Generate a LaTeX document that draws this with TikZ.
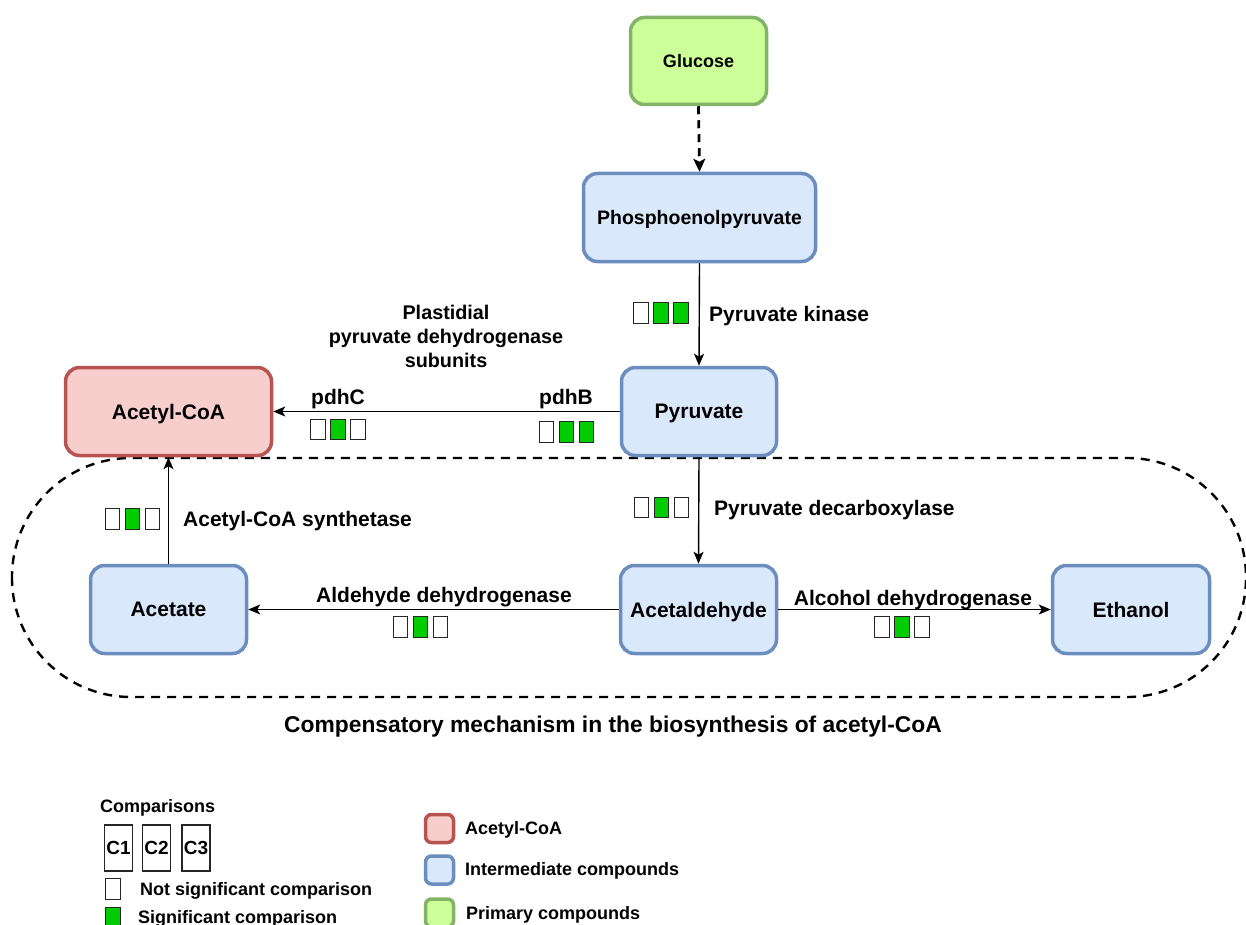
\documentclass[tikz,border=0pt]{standalone}
\usepackage{fontspec}
\setmainfont{Liberation Sans}
\usetikzlibrary{arrows.meta}

\definecolor{primfill}{HTML}{CCFF99}
\definecolor{primline}{HTML}{82B366}
\definecolor{interfill}{HTML}{DAE8FC}
\definecolor{interline}{HTML}{6C8EBF}
\definecolor{acfill}{HTML}{F8CECC}
\definecolor{acline}{HTML}{B85450}
\definecolor{sig}{HTML}{00CC00}

\newcommand{\bigfont}{\fontsize{21}{25}\selectfont\bfseries}
\newcommand{\smallfont}{\fontsize{18}{22}\selectfont\bfseries}

\tikzset{
  compound/.style={draw, line width=3.5pt, rounded corners=14pt, align=center,
    minimum height=88pt, inner sep=0pt, text depth=0pt, font=\bigfont},
  inter/.style={compound, fill=interfill, draw=interline},
  prim/.style={compound, fill=primfill, draw=primline},
  acoa/.style={compound, fill=acfill, draw=acline},
  reaction/.style={line width=1.4pt, -{Stealth[length=12pt,width=10pt,inset=3pt]}},
  feed/.style={line width=2.8pt, dash pattern=on 8pt off 6pt,
    -{Stealth[length=13pt,width=12pt,inset=3pt]}},
  lbl/.style={inner sep=0pt, text depth=0pt, font=\bigfont},
  leglbl/.style={inner sep=0pt, text depth=0pt, font=\smallfont},
  sq/.style={draw=black!85, line width=1.3pt, minimum width=14.5pt,
    minimum height=20.5pt, inner sep=0pt},
  pics/triplet/.style n args={3}{code={
    \node[sq, fill=#1] (-a) at (-20,0) {};
    \node[sq, fill=#2] (-b) at (0,0) {};
    \node[sq, fill=#3] (-c) at (20,0) {};
  }},
  legkey/.style={draw, line width=3.5pt, rounded corners=6pt,
    minimum width=28pt, minimum height=28pt, inner sep=0pt},
  cbox/.style={draw=black!85, line width=1.3pt, minimum width=28pt,
    minimum height=46pt, inner sep=0pt, font=\fontsize{19}{22}\selectfont\bfseries}
}

\begin{document}
\begin{tikzpicture}[x=1pt, y=-1pt]
\useasboundingbox (0,0) rectangle (1246,925);

% compensatory pathway region
\draw[line width=2.4pt, dash pattern=on 9pt off 7pt, rounded corners=119pt]
  (12,458) rectangle (1246,697);

% compounds
\node[prim,  minimum width=136pt, minimum height=87pt, font=\smallfont] (glc) at (698.5,61) {Glucose};
\node[inter, minimum width=232pt, font=\fontsize{19.5}{23}\selectfont\bfseries] (pep)  at (699.5,217.5) {Phosphoenolpyruvate};
\node[inter, minimum width=155pt] (pyr)  at (699,411.5) {Pyruvate};
\node[acoa,  minimum width=206pt] (acoa) at (168.5,411.5) {Acetyl-CoA};
\node[inter, minimum width=156pt] (ace)  at (168.5,609.5) {Acetate};
\node[inter, minimum width=156pt] (ald)  at (698.5,609.5) {Acetaldehyde};
\node[inter, minimum width=157pt] (eth)  at (1131,609.5) {Ethanol};

% reactions
\draw[feed] (glc.south) -- (pep.north);
\draw[reaction] (pep.south) -- (pyr.north);
\draw[reaction] (pyr.west) -- (acoa.east);
\draw[reaction] (pyr.south) -- (ald.north);
\draw[reaction] (ald.west) -- (ace.east);
\draw[reaction] (ald.east) -- (eth.west);
\draw[reaction] (ace.north) -- (acoa.south);

% enzyme labels
\node[lbl, anchor=west] (pk) at (709,314) {Pyruvate kinase};
\node[inner sep=0pt, align=center, font=\fontsize{19.8}{24}\selectfont\bfseries] (pdh) at (446,336)
  {Plastidial\\pyruvate dehydrogenase\\subunits};
\node[lbl] (pdhc) at (338,397) {pdhC};
\node[lbl] (pdhb) at (566,397) {pdhB};
\node[lbl, anchor=west] (acs) at (183,519) {Acetyl-CoA synthetase};
\node[lbl, anchor=west] (pdc) at (714,508) {Pyruvate decarboxylase};
\node[lbl] (aldh) at (444,595) {Aldehyde dehydrogenase};
\node[lbl] (adh) at (913,598) {Alcohol dehydrogenase};
\node[lbl, font=\fontsize{22.8}{26}\selectfont\bfseries] (comp) at (613,724)
  {Compensatory mechanism in the biosynthesis of acetyl-CoA};

% comparison results C1 C2 C3
\pic (tpk)   at (661,313)   {triplet={white}{sig}{sig}};
\pic (tpdhc) at (338,429.5) {triplet={white}{sig}{white}};
\pic (tpdhb) at (566.5,432) {triplet={white}{sig}{sig}};
\pic (tacs)  at (132.5,519) {triplet={white}{sig}{white}};
\pic (tpdc)  at (661.5,507.5) {triplet={white}{sig}{white}};
\pic (taldh) at (420.5,627) {triplet={white}{sig}{white}};
\pic (tadh)  at (902,627)   {triplet={white}{sig}{white}};

% legend: comparisons
\node[leglbl, anchor=west] (cmp) at (100,806) {Comparisons};
\node[cbox] (c1) at (118.5,848) {C1};
\node[cbox] (c2) at (156.5,848) {C2};
\node[cbox] (c3) at (196,848) {C3};
\node[sq, fill=white] (kns) at (113,889) {};
\node[leglbl, anchor=west] (tns) at (140,889) {Not significant comparison};
\node[sq, fill=sig] (ks) at (113,918) {};
\node[leglbl, anchor=west] (ts) at (138,917) {Significant comparison};

% legend: compound classes
\node[legkey, fill=acfill, draw=acline] (lac) at (439.5,828.5) {};
\node[leglbl, anchor=west] (tac) at (465,828) {Acetyl-CoA};
\node[legkey, fill=interfill, draw=interline] (lin) at (439.5,870) {};
\node[leglbl, anchor=west] (tin) at (465,869) {Intermediate compounds};
\node[legkey, fill=primfill, draw=primline] (lpr) at (439.5,913) {};
\node[leglbl, anchor=west] (tpr) at (466,913) {Primary compounds};
\end{tikzpicture}
\end{document}
